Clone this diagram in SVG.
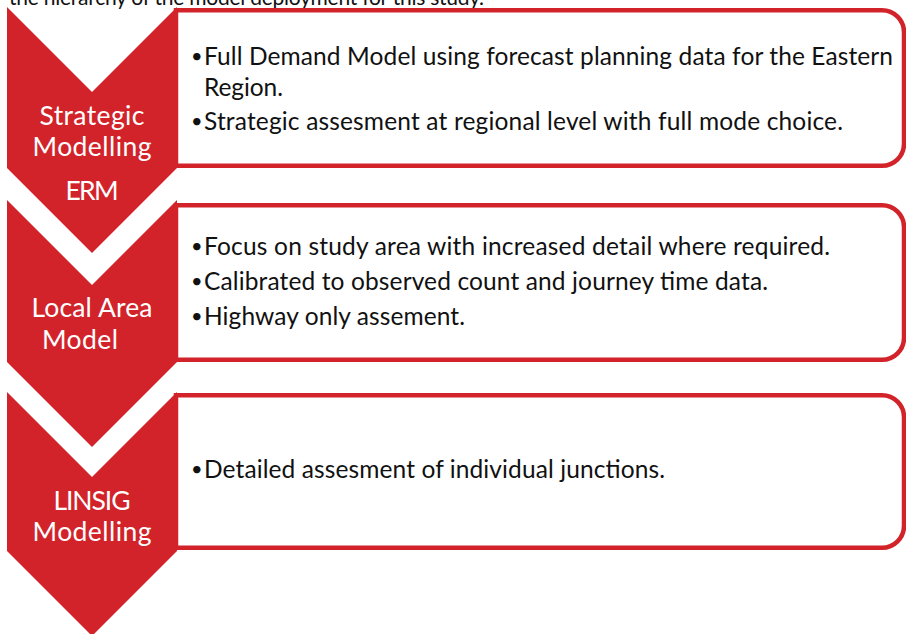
<svg xmlns="http://www.w3.org/2000/svg" width="906" height="634" viewBox="0 0 906 634">
  <style>
    .chev { fill: #D2232A; }
    .box { fill: #FFFFFF; stroke: #D2232A; stroke-width: 4.5; }
    .label { font-family: Lato, "Liberation Sans", sans-serif; font-size: 26.5px; fill: #FFFFFF; text-anchor: middle; }
    .body { font-family: Lato, "Liberation Sans", sans-serif; font-size: 24.5px; fill: #111111; }
    .bullet { font-family: Lato, "Liberation Sans", sans-serif; font-size: 20px; fill: #111111; }
  </style>

  <rect width="906" height="634" fill="#FFFFFF"/>

  <!-- lead-in sentence, clipped by the top edge -->
  <text class="body" x="9" y="5" style="font-size:21px" textLength="475">the hierarchy of the model deployment for this study.</text>

  <!-- Stage 1: strategic modelling -->
  <g id="stage-strategic">
    <path class="box" d="M176 10.25 H882 A22 22 0 0 1 904 32.25 V143.75 A22 22 0 0 1 882 165.75 H176 Z"/>
    <path class="chev" d="M7 7 L92 92 L177 7 V168 L92 253 L7 168 Z"/>
    <text class="label" x="92" y="125" textLength="105">Strategic</text>
    <text class="label" x="92" y="156" textLength="119">Modelling</text>
    <text class="label" x="92" y="200" textLength="53">ERM</text>
    <text class="bullet" x="191" y="63">•</text>
    <text class="body" x="204" y="65" textLength="689">Full Demand Model using forecast planning data for the Eastern</text>
    <text class="body" x="204" y="96" textLength="79">Region.</text>
    <text class="bullet" x="191" y="128">•</text>
    <text class="body" x="204" y="130" textLength="639">Strategic assesment at regional level with full mode choice.</text>
  </g>

  <!-- Stage 2: local area model -->
  <g id="stage-local">
    <path class="box" d="M176 205.25 H882 A22 22 0 0 1 904 227.25 V337.75 A22 22 0 0 1 882 359.75 H176 Z"/>
    <path class="chev" d="M7 200 L92 285 L177 200 V362 L92 447 L7 362 Z"/>
    <text class="label" x="92" y="317" textLength="121">Local Area</text>
    <text class="label" x="80" y="349" textLength="76">Model</text>
    <text class="bullet" x="191" y="253">•</text>
    <text class="body" x="204" y="255" textLength="626">Focus on study area with increased detail where required.</text>
    <text class="bullet" x="191" y="288">•</text>
    <text class="body" x="204" y="290" textLength="564">Calibrated to observed count and journey time data.</text>
    <text class="bullet" x="191" y="323">•</text>
    <text class="body" x="204" y="325" textLength="261">Highway only assement.</text>
  </g>

  <!-- Stage 3: LINSIG junction modelling -->
  <g id="stage-linsig">
    <path class="box" d="M176 395.25 H882 A22 22 0 0 1 904 417.25 V525.75 A22 22 0 0 1 882 547.75 H176 Z"/>
    <path class="chev" d="M7 392 L92 477 L177 392 V551 L92 636 L7 551 Z"/>
    <text class="label" x="92" y="510" textLength="77">LINSIG</text>
    <text class="label" x="92" y="541" textLength="119">Modelling</text>
    <text class="bullet" x="191" y="476">•</text>
    <text class="body" x="204" y="478" textLength="461">Detailed assesment of individual junctions.</text>
  </g>
</svg>
